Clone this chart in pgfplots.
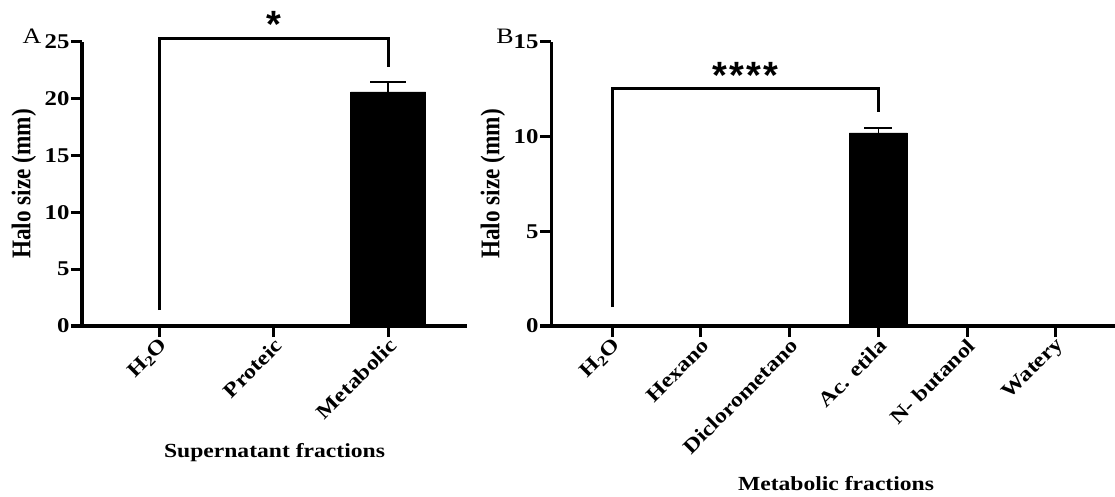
\documentclass[border=0pt]{standalone}
\usepackage{pgfplots}
\pgfplotsset{compat=1.18}
\usepackage{fontspec}
\setmainfont{Liberation Serif}[FakeStretch=1.18]
\newfontfamily\ylabfont{Liberation Serif}[FakeStretch=0.86]
\newfontfamily\starfont{Liberation Sans}

\pgfplotsset{
  halo/.style={
    scale only axis,
    height=284bp,
    ymin=0,
    axis x line*=bottom,
    axis y line*=left,
    axis line style={line width=3bp},
    major tick style={line width=3bp, black},
    major tick length=11bp,
    tick align=outside,
    xtick=data,
    x tick label style={rotate=45, anchor=east, xshift=3bp, yshift=-7bp, font=\fontsize{20.5bp}{22bp}\selectfont\bfseries},
    y tick label style={font=\fontsize{21bp}{22bp}\selectfont\bfseries, xshift=2bp},
    /pgf/number format/assume math mode=true,
    ybar, bar shift=0pt,
    clip=false,
  }
}

\begin{document}
\begin{tikzpicture}
\useasboundingbox (0,0) rectangle (1115bp,497bp);

% Panel A
\begin{axis}[halo, at={(82bp,171bp)}, anchor=south west,
  width=385bp, xmin=-0.68, xmax=2.69, ymax=25, ytick={0,5,10,15,20,25},
  xticklabels={H\textsubscript{2}O, Proteic, Metabolic}]
\addplot[fill=black, draw=black, bar width=75bp,
  error bars/.cd, y dir=plus, y explicit,
  error bar style={line width=1.7bp},
  error mark options={rotate=90, line width=1.7bp, mark size=18bp}]
  coordinates {(0,0) +- (0,0) (1,0) +- (0,0) (2,20.6) +- (0,0.9)};
\draw[line width=3bp] (axis cs:0,1.4) -- (axis cs:0,25.35) -- (axis cs:2,25.35) -- (axis cs:2,22.8);
\node[font=\starfont\bfseries\fontsize{38bp}{40bp}\selectfont, anchor=base] at ([yshift=1bp]axis cs:1,25.35) {*};
\node[font=\fontsize{20bp}{22bp}\selectfont\bfseries] at ([yshift=-127bp]rel axis cs:0.5,0) {Supernatant fractions};
\node[font=\ylabfont\bfseries\fontsize{27bp}{29bp}\selectfont, rotate=90] at ([xshift=-58bp]rel axis cs:0,0.5) {Halo size (mm)};
\end{axis}

% Panel B
\begin{axis}[halo, at={(551bp,171bp)}, anchor=south west,
  width=567bp, xmin=-0.69, xmax=5.7, ymax=15, ytick={0,5,10,15},
  xticklabels={H\textsubscript{2}O, Hexano, Diclorometano, Ac. etila, N- butanol, Watery}]
\addplot[fill=black, draw=black, bar width=58bp,
  error bars/.cd, y dir=plus, y explicit,
  error bar style={line width=1.7bp},
  error mark options={rotate=90, line width=1.7bp, mark size=14bp}]
  coordinates {(0,0) +- (0,0) (1,0) +- (0,0) (2,0) +- (0,0) (3,10.2) +- (0,0.25) (4,0) +- (0,0) (5,0) +- (0,0)};
\draw[line width=3bp] (axis cs:0,1.0) -- (axis cs:0,12.57) -- (axis cs:3,12.57) -- (axis cs:3,11.3);
\node[font=\starfont\bfseries\fontsize{38bp}{40bp}\selectfont, anchor=base] at (axis cs:1.5,12.57) {*\kern2bp*\kern2bp*\kern2bp*};
\node[font=\fontsize{20bp}{22bp}\selectfont\bfseries] at ([xshift=285bp, yshift=-158bp]rel axis cs:0,0) {Metabolic fractions};
\node[font=\ylabfont\bfseries\fontsize{27bp}{29bp}\selectfont, rotate=90] at ([xshift=-58bp]rel axis cs:0,0.5) {Halo size (mm)};
\end{axis}

\node[font=\fontsize{22bp}{24bp}\selectfont] at (32bp,461bp) {A};
\node[font=\fontsize{22bp}{24bp}\selectfont] at (505bp,461bp) {B};
\end{tikzpicture}
\end{document}
